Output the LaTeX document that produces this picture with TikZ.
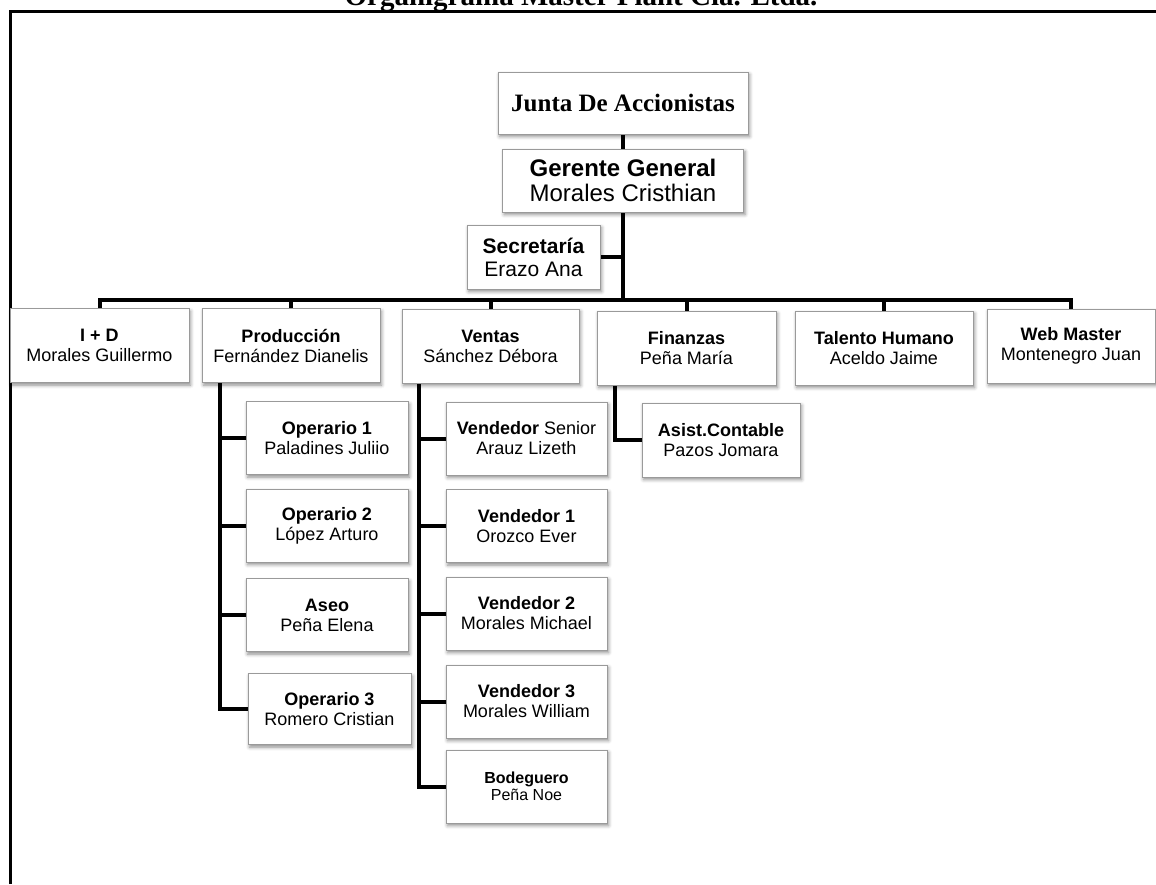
\documentclass[tikz,border=0pt]{standalone}
\usepackage{fontspec}
\setmainfont{Liberation Sans}
\newfontfamily\titlefont{Liberation Serif}
\usetikzlibrary{shadows.blur,backgrounds,calc}

\definecolor{boxgray}{HTML}{9A9A9A}

\tikzset{
  box/.style={draw=boxgray, line width=1pt, fill=white, align=center, inner sep=0pt,
    blur shadow={shadow xshift=1.5pt, shadow yshift=-2.5pt, shadow blur radius=3.5pt, shadow opacity=45}},
  lvl/.style={box, font=\fontsize{18}{20}\selectfont, minimum height=74pt},
  sub/.style={box, font=\fontsize{18}{20}\selectfont, minimum width=162pt, minimum height=73pt},
  conn/.style={line width=4pt, draw=black, line join=miter},
  frame/.style={line width=3pt, draw=black},
}

\begin{document}
\begin{tikzpicture}[x=1pt, y=-1pt]
\clip (0,0) rectangle (1156,884);

% page title and frame
\node[font=\titlefont\bfseries\fontsize{29}{30}\selectfont, anchor=base] (title) at (581,5) {Organigrama Master Plant Cia. Ltda.};
\draw[frame] (10,884) -- (10,11) -- (1160,11);

% top of the chart
\node[box, minimum width=250pt, minimum height=62pt, font=\titlefont\bfseries\fontsize{25}{26}\selectfont] (junta) at (623,103) {Junta De Accionistas};
\node[box, minimum width=241pt, minimum height=63pt, font=\fontsize{24}{25}\selectfont] (gerente) at (623,180.5) {\textbf{Gerente General}\\Morales Cristhian};
\node[box, minimum width=133pt, minimum height=64pt, font=\fontsize{21}{23}\selectfont] (secr) at (533.5,257) {\textbf{Secretaría}\\Erazo Ana};

% departments
\node[lvl, minimum width=179pt] (id) at (99.5,345.5) {\textbf{I + D}\\Morales Guillermo};
\node[lvl, minimum width=178pt] (prod) at (291,345.5) {\textbf{Producción}\\Fernández Dianelis};
\node[lvl, minimum width=177pt] (ventas) at (490.5,346) {\textbf{Ventas}\\Sánchez Débora};
\node[lvl, minimum width=179pt] (fin) at (686.5,348) {\textbf{Finanzas}\\Peña María};
\node[lvl, minimum width=178pt] (talento) at (884,348) {\textbf{Talento Humano}\\Aceldo Jaime};
\node[lvl, minimum width=168pt] (web) at (1071,346) {\textbf{Web Master}\\Montenegro Juan};

% production staff
\node[sub] (op1) at (327,438) {\textbf{Operario 1}\\Paladines Juliio};
\node[sub] (op2) at (327,525.5) {\textbf{Operario 2}\\López Arturo};
\node[sub] (aseo) at (327,615) {\textbf{Aseo}\\Peña Elena};
\node[sub, minimum width=163pt, minimum height=71pt] (op3) at (329.5,709) {\textbf{Operario 3}\\Romero Cristian};

% sales staff
\node[sub, minimum width=161pt] (vs) at (526.5,438.5) {\textbf{Vendedor} Senior\\Arauz Lizeth};
\node[sub, minimum width=161pt] (v1) at (526.5,526) {\textbf{Vendedor 1}\\Orozco Ever};
\node[sub, minimum width=161pt] (v2) at (526.5,613.5) {\textbf{Vendedor 2}\\Morales Michael};
\node[sub, minimum width=161pt] (v3) at (526.5,701.5) {\textbf{Vendedor 3}\\Morales William};
\node[sub, minimum width=161pt, font=\fontsize{16}{17}\selectfont] (bod) at (526.5,786.5) {\textbf{Bodeguero}\\Peña Noe};

% accounting
\node[lvl, minimum width=158pt] (asist) at (721,440) {\textbf{Asist.Contable}\\Pazos Jomara};

\coordinate (busy) at (0,300);

\begin{scope}[on background layer]
  \draw[conn] (junta.south) -- (gerente.north);
  \draw[conn] (secr.east) -- (secr.east -| gerente.south);
  \foreach \d in {id,prod,ventas,fin,talento,web}
    \draw[conn] (gerente.south) -- (gerente.south |- busy) -| (\d.north);
  \foreach \s in {op1,op2,aseo,op3}
    \draw[conn] ([xshift=18pt]prod.south west) |- (\s.west);
  \foreach \s in {vs,v1,v2,v3,bod}
    \draw[conn] ([xshift=17pt]ventas.south west) |- (\s.west);
  \draw[conn] ([xshift=18pt]fin.south west) |- (asist.west);
\end{scope}
\end{tikzpicture}
\end{document}
